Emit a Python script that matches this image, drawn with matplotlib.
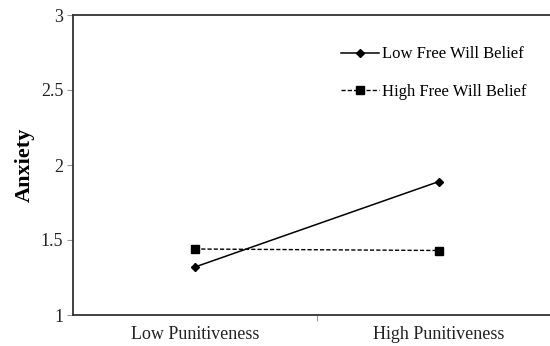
import matplotlib.pyplot as plt

plt.rcParams["font.family"] = ["Liberation Serif", "DejaVu Serif"]

conditions = ["Low Punitiveness", "High Punitiveness"]
low_free_will = [1.32, 1.89]
high_free_will = [1.44, 1.43]
y_ticks = [1, 1.5, 2, 2.5, 3]
y_tick_labels = ["1", "1.5", "2", "2.5", "3"]

fig = plt.figure(figsize=(5.5, 3.46), dpi=100)
# plot area runs past the right edge of the canvas
ax = fig.add_axes([73 / 550, 1 - 315 / 346, 488 / 550, 300 / 346])

x = list(range(len(conditions)))
ax.plot(x, low_free_will, color="black", linewidth=1.1, marker="D",
        markersize=4.5, label="Low Free Will Belief")
ax.plot(x, high_free_will, color="black", linewidth=1.0, linestyle=(0, (3, 1.5)),
        marker="s", markersize=6, label="High Free Will Belief")

ax.set_xlim(-0.5, 1.5)
ax.set_ylim(1, 3)
ax.set_yticks(y_ticks)
ax.set_yticklabels(y_tick_labels, fontsize=13, color="#222222")
ax.set_xticks([0.5])
ax.set_xticklabels([""])
ax.set_xticks(x, minor=True)
ax.set_xticklabels(conditions, minor=True, fontsize=13, color="#222222")
ax.tick_params(axis="x", which="minor", length=0, pad=8)
ax.tick_params(axis="x", which="major", length=4, color="#999999", width=0.8)
ax.tick_params(axis="y", length=4, color="#999999", width=0.8, pad=3)

for side in ("left", "bottom", "top"):
    ax.spines[side].set_color("#333333")
    ax.spines[side].set_linewidth(1.3)
ax.spines["right"].set_visible(False)

ax.set_ylabel("Anxiety", fontsize=16, fontweight="bold", labelpad=4)

ax.legend(loc="upper left", bbox_to_anchor=(268 / 488, 0.895), frameon=False,
          fontsize=12, handlelength=2.3, handletextpad=0.15, labelspacing=1.3,
          borderaxespad=0, borderpad=0)

fig.savefig("out.png", dpi=100)
